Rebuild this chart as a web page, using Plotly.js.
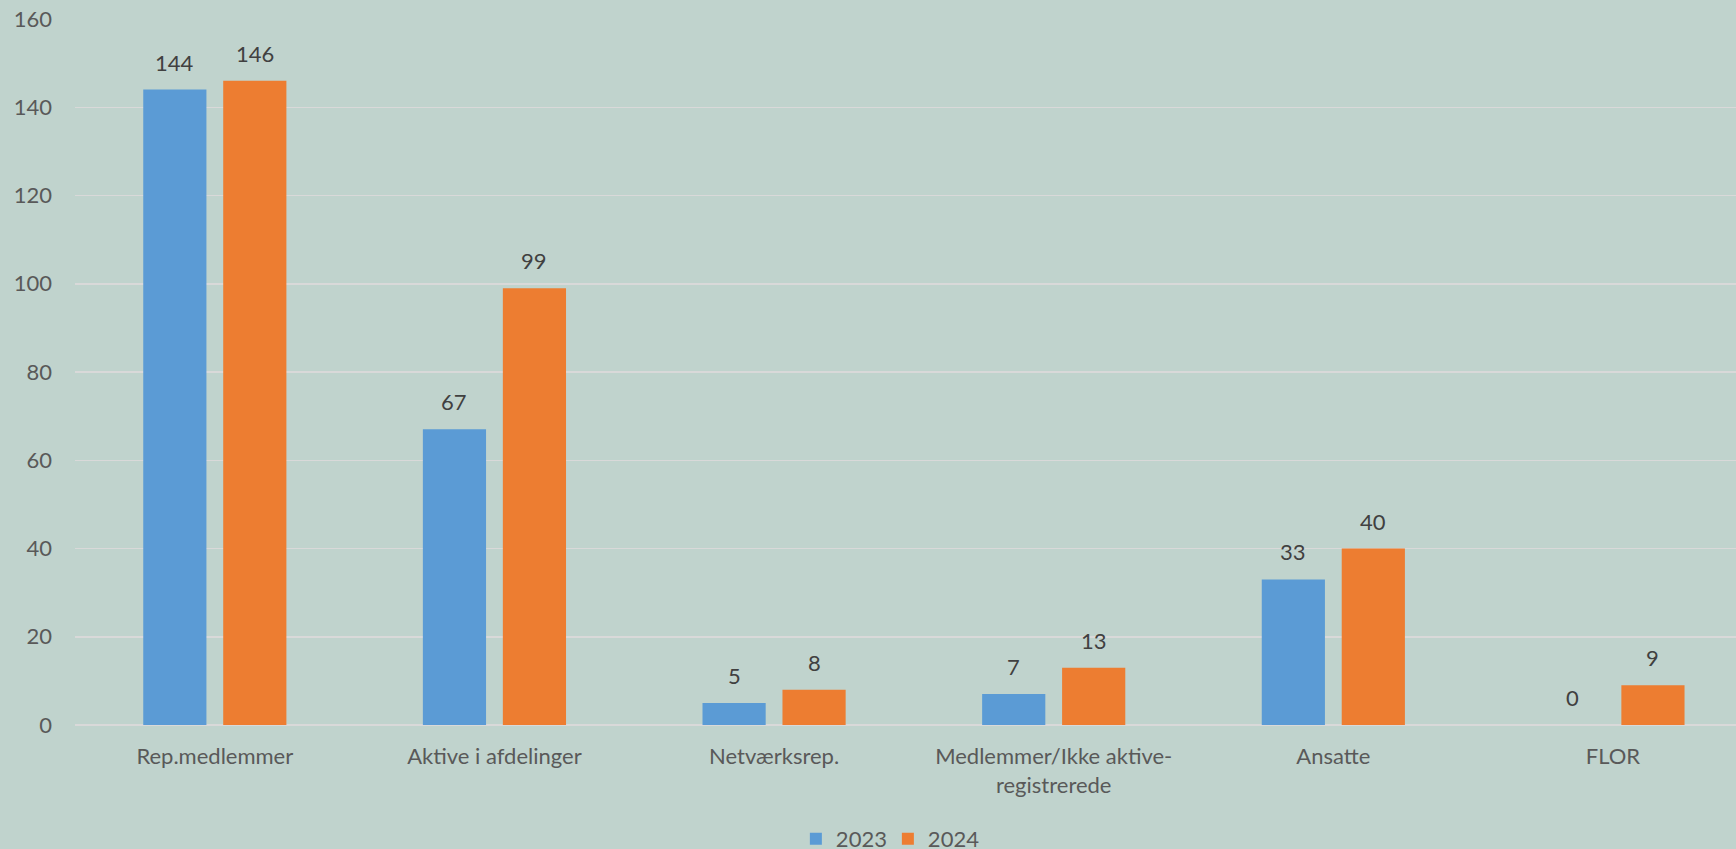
<!DOCTYPE html>
<html>
<head>
<meta charset="utf-8">
<script src="https://cdn.plot.ly/plotly-3.0.1.min.js"></script>
<style>
html,body{margin:0;padding:0;background:#C0D3CD;overflow:hidden;}
#chart{width:1736px;height:880px;}
</style>
</head>
<body>
<div id="chart"></div>
<script>
const categories = ["Rep.medlemmer", "Aktive i afdelinger", "Netværksrep.", "Medlemmer/Ikke aktive-<br>registrerede", "Ansatte", "FLOR"];
const seriesNames = ["2023", "2024"];
const values2023 = [144, 67, 5, 7, 33, 0];
const values2024 = [146, 99, 8, 13, 40, 9];
const yTicks = [0, 20, 40, 60, 80, 100, 120, 140, 160];

const colors = ["#5B9BD5", "#ED7D31"];
const font = "Lato, 'Liberation Sans', sans-serif";
const fs = 22;

const traces = [values2023, values2024].map((vals, k) => ({
  type: "bar",
  name: seriesNames[k],
  x: categories,
  y: vals,
  marker: {color: colors[k]},
  hoverinfo: "x+y+name"
}));

const annotations = [];
[values2023, values2024].forEach((vals, k) => {
  vals.forEach((v, i) => {
    annotations.push({
      x: categories[i], y: v, xref: "x", yref: "y",
      xshift: k === 0 ? -40 : 40, yshift: 12,
      yanchor: "bottom", showarrow: false,
      text: String(v),
      font: {family: font, size: fs, color: "#404040"}
    });
  });
});

const layout = {
  width: 1736, height: 880,
  paper_bgcolor: "#C0D3CD",
  plot_bgcolor: "#C0D3CD",
  margin: {l: 75, r: 0, t: 19, b: 155},
  barmode: "group",
  bargap: 0.428,
  bargroupgap: 0.21,
  font: {family: font, size: fs, color: "#595959"},
  xaxis: {
    type: "category",
    range: [-0.5, 5.44],
    showgrid: false,
    zeroline: false,
    showline: false,
    ticks: "",
    ticklabelstandoff: 16,
    tickfont: {family: font, size: fs, color: "#595959"},
    fixedrange: true
  },
  yaxis: {
    range: [0, 160],
    tickvals: yTicks,
    ticktext: yTicks.map(String),
    showgrid: true,
    gridcolor: "#D9D9D9",
    gridwidth: 1.5,
    zeroline: true,
    zerolinecolor: "#D9D9D9",
    zerolinewidth: 2,
    showline: false,
    ticks: "",
    ticklabelstandoff: 22,
    tickfont: {family: font, size: fs, color: "#595959"},
    fixedrange: true
  },
  showlegend: true,
  legend: {
    orientation: "h",
    x: 0.434, xanchor: "left",
    y: -0.1615, yanchor: "middle",
    font: {family: font, size: fs, color: "#595959"},
    bgcolor: "rgba(0,0,0,0)",
    itemwidth: 30,
    entrywidth: 47,
    entrywidthmode: "pixels",
    tracegroupgap: 0
  },
  annotations: annotations
};

Plotly.newPlot("chart", traces, layout, {displayModeBar: false, staticPlot: true});
</script>
</body>
</html>
